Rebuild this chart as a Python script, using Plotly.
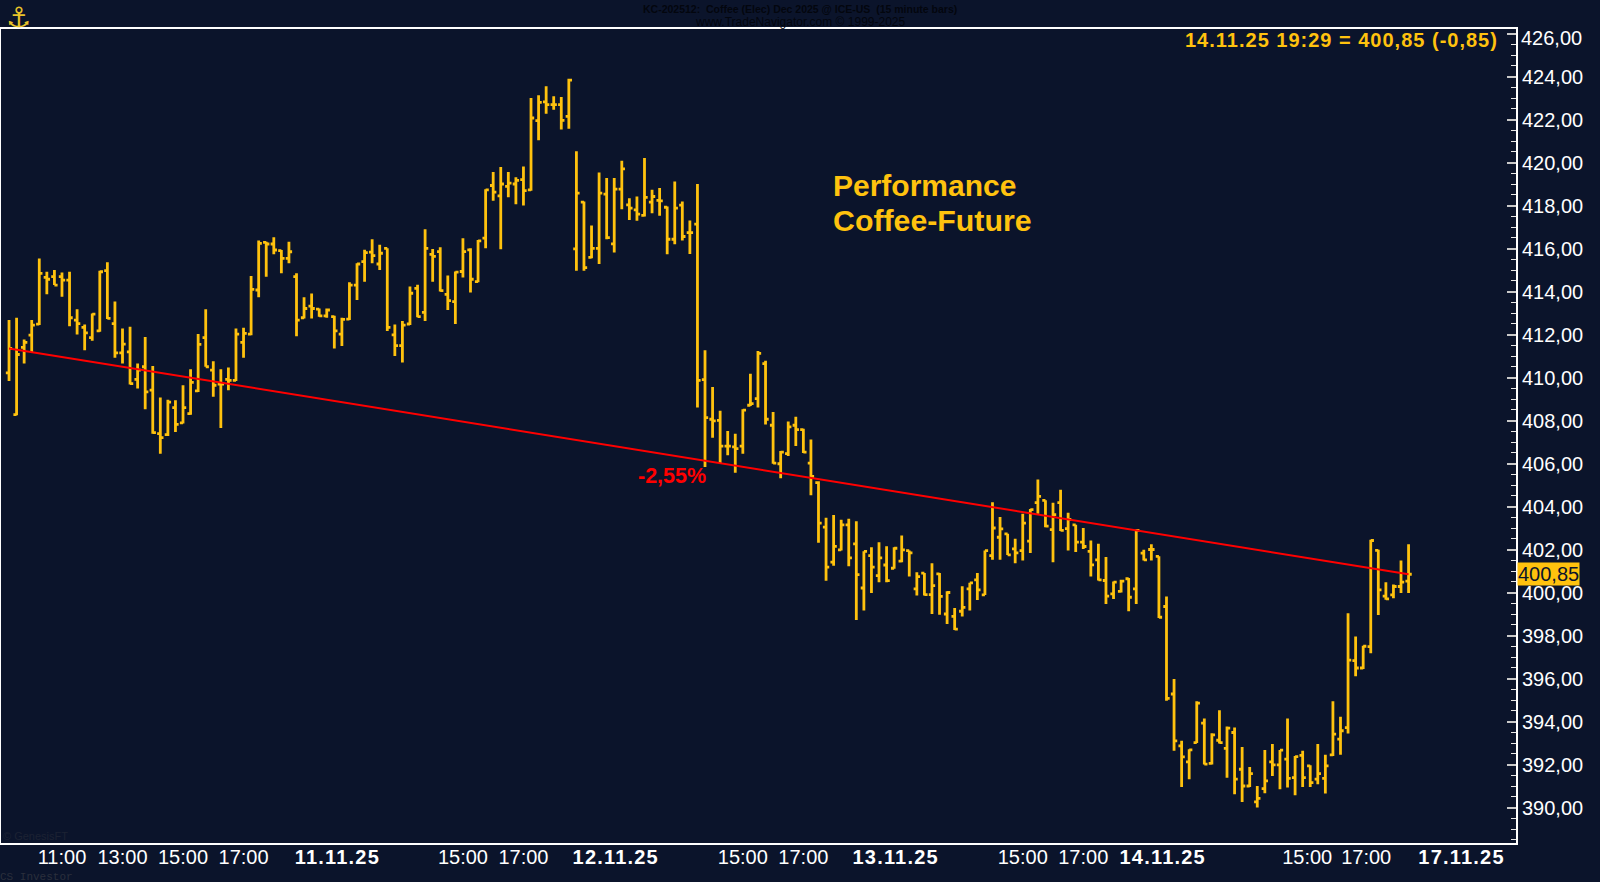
import plotly.graph_objects as go

opens = [410.22,408.27,411.40,411.97,412.48,414.66,414.69,414.69,414.53,412.67,
412.33,411.86,412.17,414.97,412.51,411.15,411.19,409.91,410.50,409.41,
407.39,407.34,408.60,407.89,408.32,409.38,411.86,410.34,409.69,409.91,
409.87,411.63,412.02,414.07,416.29,416.21,415.90,415.54,414.69,412.78,
413.32,413.18,412.87,412.83,412.02,412.72,414.30,415.39,415.83,415.28,
416.01,411.98,411.48,412.49,414.15,413.03,415.73,415.86,413.87,413.53,
414.93,415.94,414.46,416.48,418.93,418.45,418.89,419.00,419.20,418.73,
421.95,422.82,422.69,422.69,422.15,415.98,418.16,415.59,416.01,418.53,
416.22,418.76,418.03,417.80,417.54,418.16,418.24,417.92,416.43,418.02,
416.74,417.13,409.90,408.06,408.01,406.81,406.77,406.81,408.71,409.02,
410.65,407.78,405.99,406.46,407.78,407.58,406.02,405.11,403.04,401.41,
401.98,403.15,402.26,400.21,401.72,400.79,401.28,401.13,401.46,401.95,
400.17,400.90,399.90,400.87,399.00,398.89,399.13,400.17,400.59,399.89,
401.72,402.57,402.73,402.03,401.95,402.39,404.18,404.29,402.93,404.18,
402.97,403.15,402.34,401.91,401.52,400.56,399.94,400.05,400.64,400.17,
401.83,402.00,401.68,399.35,395.28,392.87,392.12,393.02,393.93,392.05,
393.13,392.75,393.49,391.78,391.00,390.26,390.88,392.12,391.98,392.25,
391.39,392.43,391.94,391.32,391.36,392.45,393.18,393.72,396.83,396.49,
397.48,401.96,399.83,399.89,400.28,400.53]

highs = [412.67,412.78,411.77,412.67,415.54,414.92,415.00,414.89,414.92,413.17,
412.47,412.98,414.97,415.36,413.53,412.28,412.36,410.65,411.89,410.53,
409.07,408.97,408.94,409.64,410.39,412.02,413.17,410.76,410.39,410.47,
412.28,412.31,414.72,416.37,416.32,416.52,415.93,416.32,414.85,413.73,
413.91,413.21,413.21,412.87,412.78,414.43,415.31,415.94,416.43,416.17,
416.01,412.47,412.63,414.23,414.31,416.90,415.98,416.06,414.74,414.93,
416.48,416.01,416.40,418.76,419.56,419.79,419.56,419.31,419.82,423.00,
423.13,423.55,423.08,423.05,423.90,420.52,418.19,417.07,419.54,419.28,
419.28,420.08,418.34,418.42,420.21,418.73,418.81,417.96,419.12,418.19,
417.30,419.00,411.27,409.56,408.45,407.51,407.39,408.52,410.18,411.23,
410.78,408.40,406.58,407.96,408.17,407.62,407.12,405.17,403.48,403.61,
403.38,403.43,403.32,401.92,402.11,402.34,402.15,402.11,402.65,401.95,
400.94,400.91,401.36,400.91,400.06,399.28,400.29,400.45,400.91,401.95,
404.20,403.51,402.73,402.50,403.66,403.89,405.26,404.29,404.18,404.78,
403.71,403.15,403.00,402.42,402.27,401.65,400.51,400.59,400.67,402.93,
401.99,402.24,401.69,399.81,395.98,393.10,392.71,394.94,394.14,393.46,
394.53,393.77,393.72,392.82,391.89,391.00,392.68,392.95,392.68,394.14,
392.40,392.64,391.97,392.95,392.45,394.94,394.22,399.04,397.96,397.53,
402.45,401.99,400.48,400.37,401.49,402.24]

lows = [409.84,408.24,410.65,411.19,412.44,413.87,414.30,413.76,412.39,412.00,
411.27,411.71,412.13,412.72,410.92,410.65,409.67,409.49,408.52,407.39,
406.46,407.28,407.47,407.86,408.27,409.33,410.50,409.10,407.65,409.41,
409.84,410.92,411.97,413.73,414.69,415.73,414.85,415.31,411.92,412.75,
412.75,412.83,412.78,411.35,411.47,412.67,413.60,414.46,415.32,415.00,
412.16,411.00,410.70,412.44,412.80,412.63,414.46,414.00,413.14,412.49,
414.65,413.95,414.43,416.01,418.22,415.97,418.39,418.06,418.00,418.69,
421.03,422.27,422.46,421.53,421.57,414.97,414.97,415.55,415.28,416.43,
415.81,417.83,417.33,417.29,417.49,417.64,417.52,415.73,416.20,416.37,
415.75,408.60,405.84,407.20,406.02,406.38,405.57,406.46,408.68,408.60,
407.82,405.99,405.32,406.35,406.81,406.49,404.52,402.31,400.55,401.25,
401.95,401.22,398.72,399.16,399.98,400.48,400.48,401.10,401.41,400.74,
399.86,399.86,399.00,398.97,398.54,398.26,398.89,399.16,399.65,399.89,
401.52,401.52,401.75,401.36,401.49,401.84,403.66,403.04,401.41,402.86,
401.96,401.88,402.03,400.74,400.56,399.47,399.70,400.00,399.13,399.47,
401.49,401.49,398.82,394.97,392.64,390.96,391.31,393.00,392.00,392.00,
392.98,391.39,390.62,390.26,390.96,390.00,390.66,391.47,390.85,390.93,
390.57,390.96,390.96,391.08,390.65,392.40,392.45,393.44,396.10,396.44,
397.17,398.96,399.66,399.73,399.98,399.98]

closes = [411.35,411.07,411.63,412.44,414.84,414.57,414.30,414.53,412.78,412.51,
412.08,412.95,414.92,412.75,411.15,411.55,409.72,410.34,409.33,407.44,
407.20,408.86,407.82,408.60,409.77,411.54,410.50,409.64,409.69,409.87,
412.02,412.05,414.10,416.24,416.21,415.93,415.54,415.85,412.67,413.21,
413.21,412.87,413.14,412.17,412.70,414.30,415.28,415.81,415.67,415.78,
412.33,411.48,412.44,413.92,412.83,416.01,415.63,414.04,413.58,414.90,
415.86,414.57,416.36,418.73,418.62,419.00,419.04,419.17,418.69,422.07,
422.80,422.69,422.69,421.96,423.83,418.58,415.11,416.01,418.58,416.51,
418.76,419.70,417.88,417.60,418.38,418.42,418.22,416.43,417.88,416.56,
416.74,409.87,408.13,407.98,406.81,406.81,406.69,408.48,408.79,411.12,
408.06,406.02,406.53,407.70,407.58,406.53,405.40,403.23,401.18,402.15,
403.15,401.61,400.83,401.91,401.18,401.61,400.55,402.06,401.98,401.84,
400.74,399.90,400.32,399.82,400.00,398.30,399.31,400.45,400.12,401.95,
403.00,402.96,401.75,401.84,403.23,403.86,404.47,403.09,403.62,402.89,
403.40,402.34,402.14,401.29,400.59,399.83,400.48,400.53,399.78,402.89,
401.52,402.00,398.85,395.08,393.10,392.36,392.68,394.86,392.02,393.38,
393.02,393.69,391.32,391.00,391.58,390.43,391.24,391.98,392.67,391.36,
392.37,391.39,391.16,391.58,391.94,393.41,393.57,396.86,396.49,397.50,
402.42,400.12,399.70,400.28,400.48,400.85]

bar_index = list(range(len(opens)))

trend_x = [0, 185]
trend_y = [411.35, 400.85]

y_ticks = list(range(390, 428, 2))
y_labels = [f"{v},00" if v != 426 else "" for v in y_ticks]

x_tick_pos = [7, 15, 23, 31, 43.4, 60, 68, 80.2, 97, 105, 117.2, 134, 142, 152.5, 171.6, 179.4, 192]
SP = '<span style="letter-spacing:1.2px"><b>%s</b></span>'
x_tick_text = ["11:00", "13:00", "15:00", "17:00", SP % "11.11.25", "15:00", "17:00", SP % "12.11.25",
               "15:00", "17:00", SP % "13.11.25", "15:00", "17:00", SP % "14.11.25", "15:00", "17:00", SP % "17.11.25"]

BG = "#0B142B"
GOLD = "#FFC20E"
W, H = 1600, 882
ML, MR, MT, MB = 1, 84, 29, 39
SANS = "Liberation Sans, Arial, sans-serif"

fig = go.Figure()
fig.add_trace(go.Ohlc(x=bar_index, open=opens, high=highs, low=lows, close=closes,
                      increasing=dict(line=dict(color=GOLD, width=2.8)),
                      decreasing=dict(line=dict(color=GOLD, width=2.8)),
                      tickwidth=0.42, showlegend=False))
fig.add_trace(go.Scatter(x=trend_x, y=trend_y, mode="lines",
                         line=dict(color="#FF0000", width=2), showlegend=False))

def px(x, y, text, size, color, bold=False, xanchor="left", family=SANS):
    fig.add_annotation(xref="paper", yref="paper",
                       x=(x - ML) / (W - ML - MR), y=1 - (y - MT) / (H - MT - MB),
                       text=f"<b>{text}</b>" if bold else text, showarrow=False,
                       xanchor=xanchor, yanchor="middle", borderpad=0, borderwidth=0,
                       font=dict(family=family, size=size, color=color))

px(800, 9, "KC-202512:  Coffee (Elec) Dec 2025 @ ICE-US  (15 minute bars)", 10.5, "#03060E", True, "center")
px(800, 22, "www.TradeNavigator.com © 1999-2025", 12, "#03060E", False, "center")
px(1498, 40, '<span style="letter-spacing:1px">14.11.25 19:29 = 400,85 (-0,85)</span>', 20, GOLD, True, "right")
px(833, 185, "Performance", 30, GOLD, True)
px(833, 220, "Coffee-Future", 30.3, GOLD, True)
px(638, 475.5, "-2,55%", 21.5, "#FF0000", True)
px(3, 836, "© GenesisFT", 11, "#1C2233")
px(0, 877, "CS Investor", 11, "#2A2F3C", False, "left", "Liberation Mono, monospace")
px(18, 18, "⚓", 28, "#E8C32A", False, "center", "DejaVu Sans")
px(1521, 38, "426,00", 20, "#FFFFFF")

fig.add_annotation(xref="paper", yref="y", x=1, y=400.85, text="400,85", showarrow=False,
                   xanchor="left", yanchor="middle", xshift=1, bgcolor=GOLD, borderpad=0,
                   font=dict(family=SANS, size=20, color="#0B142B"))

fig.update_layout(
    width=W, height=H, autosize=False,
    margin=dict(l=ML, r=MR, t=MT, b=MB, autoexpand=False),
    paper_bgcolor=BG, plot_bgcolor=BG, showlegend=False,
    xaxis=dict(range=[-1.06, 199.2], rangeslider=dict(visible=False), showgrid=False, zeroline=False,
               tickmode="array", tickvals=x_tick_pos, ticktext=x_tick_text, ticks="",
               ticklabelstandoff=-5,
               tickangle=0, tickfont=dict(family=SANS, size=20, color="#FFFFFF"),
               showline=True, linecolor="#FFFFFF", linewidth=2, mirror=True),
    yaxis=dict(range=[388.35, 426.21], side="right", showgrid=False, zeroline=False,
               tickmode="array", tickvals=y_ticks, ticktext=y_labels, ticks="inside", ticklen=9,
               tickwidth=2, tickcolor="#C8C8C8",
               minor=dict(dtick=0.5, ticks="inside", ticklen=5, tickwidth=1, tickcolor="#E8E8E8", showgrid=False),
               tickfont=dict(family=SANS, size=20, color="#FFFFFF"),
               showline=True, linecolor="#FFFFFF", linewidth=2, mirror=True),
)
fig.write_html("out.html", config=dict(displayModeBar=False),
               post_script="document.body.style.margin='0';document.body.style.background='%s';document.documentElement.style.overflow='hidden';" % BG)
